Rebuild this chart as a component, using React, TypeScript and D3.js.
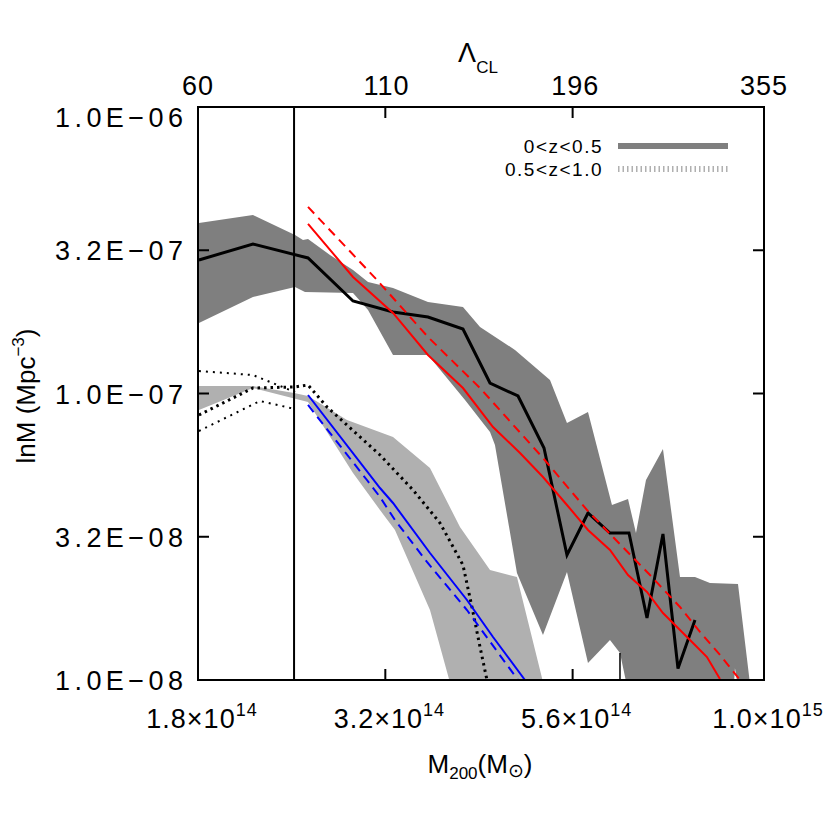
import React from "react";
import * as d3 from "d3";

// Masses in units of 1e14 Msun, densities in units of 1e-8 Mpc^-3

// 0<z<0.5 median (black solid)
const lowzMass = [1.805, 2.126, 2.512, 2.879, 3.25, 3.613, 4.017, 4.36, 4.746, 5.135, 5.505, 5.867, 6.271, 6.643, 7.015, 7.363, 7.706, 8.113];
const lowzMedian = [29.24, 33.26, 29.72, 21.03, 19.25, 18.49, 16.79, 10.88, 9.801, 6.453, 2.731, 3.827, 3.259, 3.259, 1.646, 3.233, 1.097, 1.62];

// 0<z<0.5 band (dark gray)
const lowzUpperMass = [1.805, 2.126, 2.415, 2.474, 2.512, 2.685, 2.879, 3.013, 3.25, 3.613, 4.017, 4.23, 4.703, 5.229, 5.505, 5.867, 6.309, 6.623, 6.785, 6.994, 7.363, 7.753, 8.113, 8.49, 9.242, 9.642];
const lowzUpper = [39.38, 42.0, 35.76, 34.35, 34.63, 30.44, 26.98, 24.5, 23.35, 20.86, 20.04, 17.07, 14.19, 11.15, 7.889, 8.619, 4.082, 4.283, 3.259, 4.99, 6.401, 2.288, 2.288, 2.18, 2.163, 0.85];
const lowzLowerMass = [1.805, 2.126, 2.415, 2.489, 2.879, 3.013, 3.25, 3.613, 4.042, 4.36, 4.426, 4.731, 5.119, 5.505, 5.867, 6.271, 6.464, 6.663, 9.103, 9.158, 9.298, 9.642];
const lowzLower = [17.62, 21.72, 23.54, 22.61, 22.43, 19.56, 13.63, 13.63, 9.491, 7.339, 6.611, 2.363, 1.436, 2.382, 1.146, 1.379, 1.242, 0.85, 0.85, 1.101, 0.85, 0.85];

// 0.5<z<1.0 band (light gray)
const hizUpperMass = [1.805, 2.126, 2.408, 2.512, 2.827, 3.25, 3.635, 3.981, 4.36, 4.731, 5.15];
const hizUpper = [10.62, 10.62, 10.04, 9.801, 8.081, 7.05, 5.495, 3.42, 2.421, 2.288, 0.923];
const hizLowerMass = [1.805, 2.126, 2.512, 2.879, 3.124, 3.269, 3.635, 3.886];
const hizLower = [8.758, 10.45, 9.34, 5.279, 3.921, 3.339, 1.755, 0.923];

// 0.5<z<1.0 median (thick dotted) and error lines (thin dotted)
const hizMass = [1.805, 2.126, 2.415, 2.512, 2.661, 3.124, 3.453, 3.747, 4.017, 4.128, 4.23, 4.32];
const hizMedian = [8.414, 10.45, 10.54, 10.71, 8.972, 6.1, 4.605, 3.532, 2.52, 1.798, 1.304, 1.0];
const hizErrHiMass = [1.805, 2.126, 2.415];
const hizErrHi = [11.98, 11.6, 10.12];
const hizErrLoMass = [1.805, 2.172, 2.415];
const hizErrLo = [7.398, 9.416, 8.829];

// Model predictions
const redSolidMass = [2.512, 2.879, 3.25, 3.613, 4.017, 4.4, 4.775, 5.119, 5.505, 5.867, 6.271, 6.623, 7.015, 7.363, 7.753, 8.113, 8.413, 8.751];
const redSolid = [39.07, 25.51, 19.1, 13.63, 10.45, 7.64, 6.199, 5.112, 4.082, 3.339, 2.843, 2.325, 2.029, 1.713, 1.495, 1.325, 1.203, 1.008];
const redDashMass = [2.512, 3.096, 3.613, 4.23, 5.119, 5.849, 6.328, 7.079, 7.753, 8.237, 8.751, 9.298];
const redDash = [44.8, 24.9, 15.75, 10.45, 5.955, 3.921, 3.156, 2.325, 1.798, 1.471, 1.223, 1.0];
const blueSolidMass = [2.512, 3.124, 3.25, 3.635, 4.066, 4.4, 4.847];
const blueSolid = [9.88, 4.679, 4.148, 2.775, 1.902, 1.413, 1.0];
const blueDashMass = [2.512, 3.003, 3.124, 3.269, 3.602, 4.066, 4.746];
const blueDash = [9.118, 4.99, 4.353, 3.618, 2.582, 1.755, 1.0];

// Reference lines
const cutMass = 2.408;
const stubMass = 6.464;
const stubRange = [1.0, 1.242];

// Axes
const xTicks = [1.8, 3.175, 5.6, 10];
const xTickBase = ["1.8×10", "3.2×10", "5.6×10", "1.0×10"];
const xTickExp = ["14", "14", "14", "15"];
const yTicks = [1, 3.162, 10, 31.62, 100];
const yTickLabels = ["1.0E−08", "3.2E−08", "1.0E−07", "3.2E−07", "1.0E−06"];
const lambdaTicks = [60, 108.5, 196.3, 355];
const lambdaLabels = ["60", "110", "196", "355"];

const legendLabels = ["0<z<0.5", "0.5<z<1.0"];

const FONT = "'Liberation Sans', Arial, 'DejaVu Sans', sans-serif";

export default function App() {
  const L = 198, R = 764, T = 107, B = 680;
  const x = d3.scaleLog().domain([1.8, 10]).range([L, R]);
  const y = d3.scaleLog().domain([1, 100]).range([B, T]);
  const xl = d3.scaleLog().domain([60, 355]).range([L, R]);
  const zip = (a: number[], b: number[]) => a.map((m, i) => [m, b[i]] as [number, number]);
  const line = d3.line<[number, number]>().x(d => x(d[0])).y(d => y(d[1]));
  const band = (um: number[], uv: number[], lm: number[], lv: number[]) =>
    line([...zip(um, uv), ...zip(lm, lv).reverse()]) + "Z";
  const tick = 11;

  return (
    <svg width={830} height={830} style={{ position: "absolute", left: 0, top: 0, background: "#fff" }} fontFamily={FONT}>
      <defs>
        <clipPath id="plot">
          <rect x={L} y={T} width={R - L} height={B - T} />
        </clipPath>
      </defs>
      <g clipPath="url(#plot)">
        <path d={band(lowzUpperMass, lowzUpper, lowzLowerMass, lowzLower)} fill="#7f7f7f" />
        <path d={band(hizUpperMass, hizUpper, hizLowerMass, hizLower)} fill="#b0b0b0" />
        <line x1={x(cutMass)} x2={x(cutMass)} y1={T} y2={B} stroke="#000" strokeWidth={2} />
        <line x1={x(stubMass)} x2={x(stubMass)} y1={y(stubRange[0])} y2={y(stubRange[1])} stroke="#000" strokeWidth={1.5} />
        <path d={line(zip(hizErrHiMass, hizErrHi)) || ""} fill="none" stroke="#000" strokeWidth={2} strokeDasharray="2 5" />
        <path d={line(zip(hizErrLoMass, hizErrLo)) || ""} fill="none" stroke="#000" strokeWidth={2} strokeDasharray="2 5" />
        <path d={line(zip(hizMass, hizMedian)) || ""} fill="none" stroke="#000" strokeWidth={3} strokeDasharray="2.5 4" />
        <path d={line(zip(blueSolidMass, blueSolid)) || ""} fill="none" stroke="#0000ff" strokeWidth={2} />
        <path d={line(zip(blueDashMass, blueDash)) || ""} fill="none" stroke="#0000ff" strokeWidth={2} strokeDasharray="9 6" />
        <path d={line(zip(lowzMass, lowzMedian)) || ""} fill="none" stroke="#000" strokeWidth={3} strokeLinejoin="miter" />
        <path d={line(zip(redSolidMass, redSolid)) || ""} fill="none" stroke="#ff0000" strokeWidth={2} />
        <path d={line(zip(redDashMass, redDash)) || ""} fill="none" stroke="#ff0000" strokeWidth={2} strokeDasharray="9 6" />
      </g>

      {/* frame */}
      <rect x={L} y={T} width={R - L} height={B - T} fill="none" stroke="#000" strokeWidth={2} />

      {/* bottom & top ticks */}
      {xTicks.map((t, i) => (
        <g key={"xt" + i}>
          <line x1={x(t)} x2={x(t)} y1={B} y2={B - tick} stroke="#000" strokeWidth={2} />
          <line x1={x(t)} x2={x(t)} y1={T} y2={T + tick} stroke="#000" strokeWidth={2} />
          <text x={x(t) + 4} y={728} textAnchor="middle" fontSize={27} letterSpacing={1}>
            {xTickBase[i]}
            <tspan fontSize={18} dy={-12}>{xTickExp[i]}</tspan>
          </text>
        </g>
      ))}
      {lambdaTicks.map((t, i) => (
        <text key={"lt" + i} x={xl(t)} y={95} textAnchor="middle" fontSize={27} letterSpacing={1}>{lambdaLabels[i]}</text>
      ))}
      {yTicks.map((t, i) => (
        <g key={"yt" + i}>
          <line x1={L} x2={L + tick} y1={y(t)} y2={y(t)} stroke="#000" strokeWidth={2} />
          <line x1={R} x2={R - tick} y1={y(t)} y2={y(t)} stroke="#000" strokeWidth={2} />
          <text x={183} y={y(t) + (i === yTicks.length - 1 ? 20 : 10)} textAnchor="end" fontSize={27} textLength={128} lengthAdjust="spacing">{yTickLabels[i]}</text>
        </g>
      ))}

      {/* axis titles */}
      <text x={480} y={773} textAnchor="middle" fontSize={26}>
        M<tspan fontSize={17} dy={6}>200</tspan><tspan dy={-6}>(M</tspan>
        <tspan fontFamily="'DejaVu Sans', sans-serif" fontSize={19} dy={4}>⊙</tspan><tspan dy={-4}>)</tspan>
      </text>
      <text transform="translate(35,396) rotate(-90)" textAnchor="middle" fontSize={26}>
        lnM (Mpc<tspan fontSize={17} dy={-11}>−3</tspan><tspan dy={11}>)</tspan>
      </text>
      <text x={478} y={62} textAnchor="middle" fontSize={27}>
        Λ<tspan fontSize={17} dy={11}>CL</tspan>
      </text>

      {/* legend */}
      <text x={603} y={153} textAnchor="end" fontSize={19} letterSpacing={1.5}>{legendLabels[0]}</text>
      <text x={603} y={176} textAnchor="end" fontSize={19} letterSpacing={1.5}>{legendLabels[1]}</text>
      <line x1={618} x2={728} y1={146} y2={146} stroke="#7f7f7f" strokeWidth={6} />
      <line x1={618} x2={728} y1={169} y2={169} stroke="#b0b0b0" strokeWidth={6} strokeDasharray="1.5 3" />
    </svg>
  );
}
